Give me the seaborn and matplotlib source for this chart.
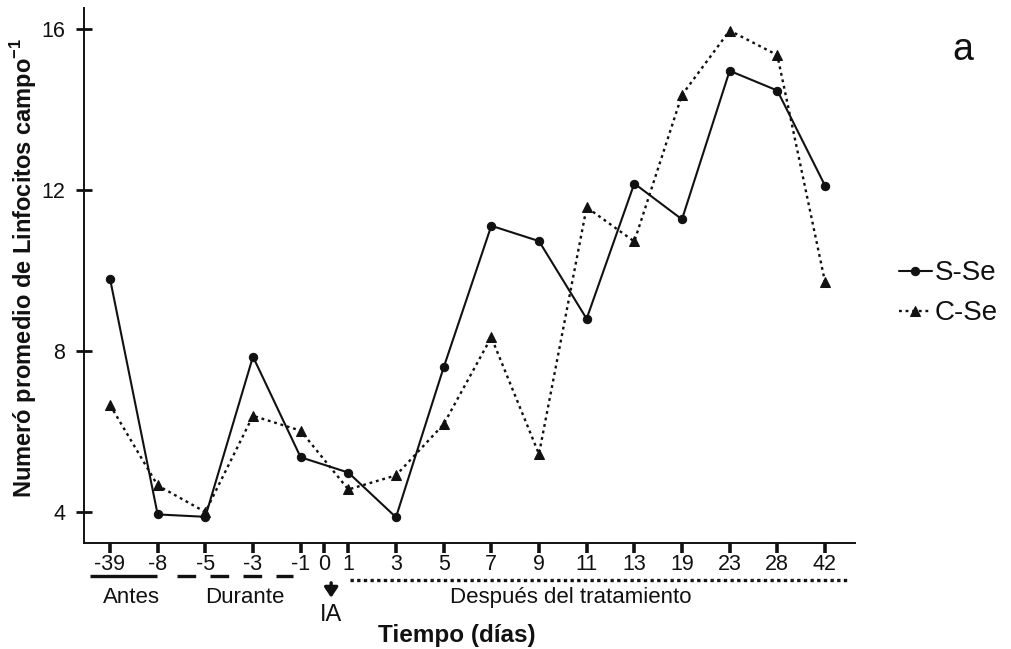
import matplotlib
matplotlib.use("Agg")
import matplotlib.pyplot as plt
import matplotlib.transforms as mtransforms
import numpy as np
import pandas as pd
import seaborn as sns

# Sampling days (day 0 = artificial insemination, no sample taken)
days = [-39, -8, -5, -3, -1, 1, 3, 5, 7, 9, 11, 13, 19, 23, 28, 42]
tick_days = [-39, -8, -5, -3, -1, 0, 1, 3, 5, 7, 9, 11, 13, 19, 23, 28, 42]

# Mean lymphocytes per field
s_se = [9.80, 3.94, 3.88, 7.86, 5.36, 4.98, 3.87, 7.59, 11.11, 10.73, 8.80,
        12.16, 11.27, 14.96, 14.47, 12.11]
c_se = [6.66, 4.66, 4.00, 6.39, 6.02, 4.56, 4.91, 6.18, 8.34, 5.44, 11.57,
        10.72, 14.36, 15.96, 15.35, 9.72]

y_ticks = [4, 8, 12, 16]

sns.set_style("ticks")
plt.rcParams["font.family"] = ["Liberation Sans", "DejaVu Sans"]
plt.rcParams["mathtext.fontset"] = "custom"
plt.rcParams["mathtext.rm"] = "Liberation Sans"
plt.rcParams["mathtext.bf"] = "Liberation Sans:bold"

# Days are plotted on an ordinal axis; day 0 sits halfway between -1 and 1
slot = {d: i for i, d in enumerate(days)}
slot[0] = (slot[-1] + slot[1]) / 2
df = pd.DataFrame({
    "pos": [slot[d] for d in days],
    "S-Se": s_se,
    "C-Se": c_se,
})

fig = plt.figure(figsize=(10.12, 6.49), dpi=100)
ax = fig.add_axes([84 / 1012, 1 - 543 / 649, (855 - 84) / 1012, (543 - 8) / 649])

ink = "#111111"
sns.lineplot(data=df, x="pos", y="S-Se", ax=ax, color=ink, lw=1.5,
             marker="o", markersize=6, markeredgecolor=ink, label="S-Se")
sns.lineplot(data=df, x="pos", y="C-Se", ax=ax, color=ink, lw=1.7,
             linestyle=(0, (1.2, 1.6)), marker="^", markersize=6.5,
             markeredgecolor=ink, label="C-Se")

ax.set_xlim(-0.545, 15.63)
ax.set_ylim(3.23, 16.52)

ax.set_xticks([slot[d] for d in tick_days])
ax.set_xticklabels([str(d) for d in tick_days], fontsize=15.5, color=ink)
ax.set_yticks(y_ticks)
ax.set_yticklabels([str(v) for v in y_ticks], fontsize=15.5, color=ink)
ax.tick_params(axis="x", bottom=True, direction="out", length=7, width=2.6,
               color=ink, pad=1)
ax.tick_params(axis="y", left=True, direction="inout", length=11, width=2.0,
               color=ink, pad=8)

for side in ("top", "right"):
    ax.spines[side].set_visible(False)
for side in ("left", "bottom"):
    ax.spines[side].set_color(ink)
    ax.spines[side].set_linewidth(1.4)

ax.set_ylabel(r"Numeró promedio de Linfocitos campo$^{\mathbf{-1}}$",
              fontsize=17, fontweight="bold", color=ink)
ax.yaxis.set_label_coords(-0.059, 0.514)
ax.set_xlabel("Tiempo (días)", fontsize=17.5, fontweight="bold", color=ink)
ax.xaxis.set_label_coords(457 / 1012, 1 - 624 / 649, transform=fig.transFigure)

leg = ax.legend(loc="center left", bbox_to_anchor=(0.888, 0.548),
                bbox_transform=fig.transFigure, frameon=False, fontsize=20,
                handlelength=1.2, handletextpad=0.1, labelspacing=0.5,
                borderpad=0, borderaxespad=0)
for t in leg.get_texts():
    t.set_color(ink)

fig.text(963 / 1012, 1 - 50 / 649, "a", fontsize=27, ha="center", va="center",
         color=ink)

# Treatment period bars under the time axis
trans = mtransforms.blended_transform_factory(ax.transData, fig.transFigure)
ax.plot([-0.42, 0.99], [0.1125, 0.1125], transform=trans, color=ink, lw=2.4,
        solid_capstyle="butt", clip_on=False)
ax.plot([1.41, 3.84], [0.1125, 0.1125], transform=trans, color=ink, lw=2.4,
        linestyle=(0, (5.6, 4.3)), dash_capstyle="butt", clip_on=False)
ax.plot([5.03, 15.52], [0.1063, 0.1063], transform=trans, color=ink, lw=2.4,
        linestyle=(0, (1.0, 1.0)), dash_capstyle="butt", clip_on=False)

txt_kw = dict(transform=trans, ha="center", va="center", fontsize=16,
              color=ink, clip_on=False)
ax.text(0.46, 0.0801, "Antes", **txt_kw)
ax.text(2.83, 0.0801, "Durante", **txt_kw)
ax.text(9.67, 0.0801, "Después del tratamiento", **txt_kw)
ax.text(4.64, 0.052, "IA", **{**txt_kw, "fontsize": 17})

ax.annotate("", xy=(4.64, 0.0790), xycoords=trans,
            xytext=(4.64, 0.1020), textcoords=trans,
            arrowprops=dict(arrowstyle="-|>,head_width=0.4,head_length=0.6",
                            color=ink, lw=2.4, shrinkA=0, shrinkB=0),
            annotation_clip=False)

fig.savefig("out.png", dpi=100, facecolor="white")
